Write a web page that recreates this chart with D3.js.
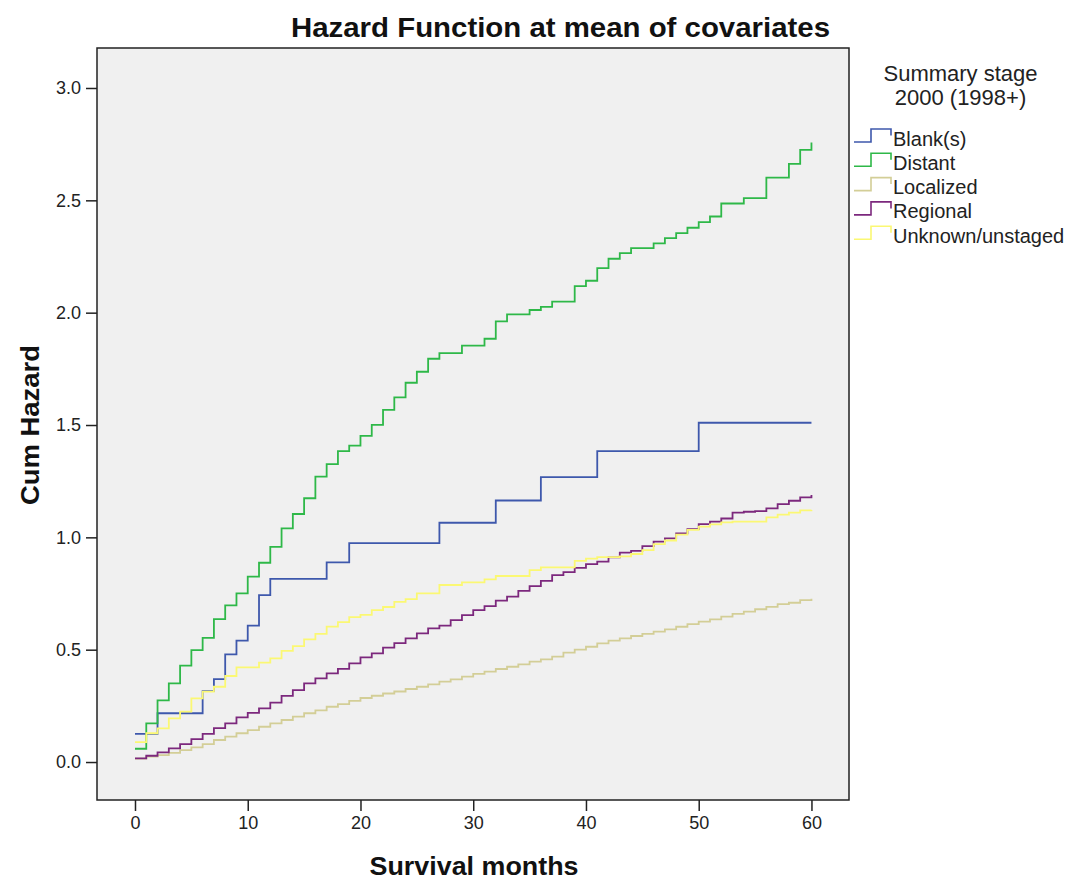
<!DOCTYPE html>
<html><head><meta charset="utf-8">
<script src="https://cdn.jsdelivr.net/npm/d3@7"></script>
<style>
body{margin:0;background:#fff;}
svg{display:block;}
text{font-family:Arial,"Liberation Sans",sans-serif;}
</style>
</head><body>
<svg id="chart" width="1070" height="882"></svg>
<script>
// ---------- DATA ----------
const seriesNames = ["Blank(s)", "Distant", "Localized", "Regional", "Unknown/unstaged"];
const seriesColors = ["#3E58AC", "#2EB848", "#D3CE97", "#7C287D", "#FBF873"];

const months = [0,1,2,3,4,5,6,7,8,9,10,11,12,13,14,15,16,17,18,19,20,21,22,23,24,25,26,27,28,29,30,
  31,32,33,34,35,36,37,38,39,40,41,42,43,44,45,46,47,48,49,50,51,52,53,54,55,56,57,58,59,60];

const blankMonths = [0,2,6,7,8,9,10,11,12,17,19,27,32,36,41,50,60];
const blankHazard = [0.125,0.217,0.316,0.369,0.479,0.540,0.607,0.743,0.815,0.889,0.974,1.065,1.164,1.268,1.384,1.510,1.510];

const distantHazard = [0.059,0.172,0.274,0.350,0.429,0.498,0.553,0.636,0.697,0.751,
  0.825,0.887,0.958,1.040,1.104,1.174,1.270,1.326,1.384,1.408,
  1.452,1.501,1.567,1.623,1.688,1.737,1.795,1.820,1.820,1.853,
  1.853,1.884,1.961,1.992,1.992,2.012,2.026,2.049,2.049,2.118,
  2.142,2.198,2.240,2.265,2.287,2.287,2.308,2.332,2.354,2.378,
  2.403,2.428,2.486,2.486,2.510,2.510,2.601,2.601,2.662,2.725,
  2.757];

const localizedHazard = [0.015,0.024,0.031,0.041,0.053,0.065,0.080,0.098,0.113,0.128,
  0.142,0.157,0.172,0.187,0.202,0.217,0.230,0.246,0.258,0.272,
  0.285,0.295,0.305,0.314,0.325,0.335,0.346,0.358,0.368,0.380,
  0.392,0.402,0.414,0.424,0.435,0.447,0.457,0.469,0.487,0.500,
  0.513,0.528,0.540,0.550,0.561,0.570,0.580,0.590,0.602,0.614,
  0.625,0.635,0.647,0.659,0.669,0.680,0.691,0.703,0.709,0.721,
  0.727];

const regionalHazard = [0.016,0.028,0.043,0.061,0.080,0.102,0.125,0.151,0.172,0.199,
  0.219,0.239,0.264,0.294,0.320,0.350,0.372,0.395,0.415,0.439,
  0.466,0.484,0.509,0.529,0.550,0.573,0.595,0.607,0.632,0.654,
  0.676,0.694,0.718,0.736,0.762,0.783,0.806,0.832,0.845,0.864,
  0.881,0.892,0.911,0.932,0.940,0.961,0.981,0.995,1.018,1.037,
  1.059,1.070,1.084,1.110,1.114,1.117,1.129,1.148,1.163,1.178,
  1.188];

const unknownHazard = [0.089,0.128,0.150,0.194,0.224,0.283,0.313,0.335,0.383,0.421,
  0.421,0.442,0.461,0.495,0.516,0.546,0.570,0.603,0.623,0.645,
  0.655,0.676,0.690,0.713,0.725,0.751,0.751,0.788,0.788,0.800,
  0.800,0.813,0.828,0.828,0.828,0.854,0.866,0.866,0.866,0.895,
  0.905,0.912,0.912,0.915,0.926,0.943,0.970,0.986,1.012,1.033,
  1.048,1.058,1.067,1.070,1.070,1.070,1.089,1.101,1.110,1.120,
  1.122];

const xTicks = [0,10,20,30,40,50,60];
const yTicks = [0.0,0.5,1.0,1.5,2.0,2.5,3.0];

// ---------- CHART ----------
const svg = d3.select("#chart");
const frame = {left:97, right:849, top:48, bottom:800};

const x = d3.scaleLinear().domain([-3.37, 63.33]).range([frame.left, frame.right]);
const y = d3.scaleLinear().domain([-0.169, 3.178]).range([frame.bottom, frame.top]);

svg.append("rect")
  .attr("x", frame.left).attr("y", frame.top)
  .attr("width", frame.right - frame.left).attr("height", frame.bottom - frame.top)
  .attr("fill", "#F0F0F0");

const series = [
  {name: seriesNames[0], color: seriesColors[0], pts: blankMonths.map((m,i)=>[m, blankHazard[i]])},
  {name: seriesNames[1], color: seriesColors[1], pts: months.map((m,i)=>[m, distantHazard[i]])},
  {name: seriesNames[2], color: seriesColors[2], pts: months.map((m,i)=>[m, localizedHazard[i]])},
  {name: seriesNames[3], color: seriesColors[3], pts: months.map((m,i)=>[m, regionalHazard[i]])},
  {name: seriesNames[4], color: seriesColors[4], pts: months.map((m,i)=>[m, unknownHazard[i]])}
];

const line = d3.line().x(d=>x(d[0])).y(d=>y(d[1])).curve(d3.curveStepAfter);

svg.append("g").selectAll("path").data(series).join("path")
  .attr("d", d=>line(d.pts))
  .attr("fill","none")
  .attr("stroke", d=>d.color)
  .attr("stroke-width", 1.8)
  .attr("stroke-linejoin","miter");

// frame border
svg.append("rect")
  .attr("x", frame.left).attr("y", frame.top)
  .attr("width", frame.right - frame.left).attr("height", frame.bottom - frame.top)
  .attr("fill", "none").attr("stroke", "#222").attr("stroke-width", 1.5);

// axes
const xAxis = d3.axisBottom(x).tickValues(xTicks).tickFormat(d3.format("d")).tickSize(11).tickPadding(5);
const gx = svg.append("g").attr("transform", `translate(0,${frame.bottom})`).call(xAxis);
const yAxis = d3.axisLeft(y).tickValues(yTicks).tickFormat(d3.format(".1f")).tickSize(11).tickPadding(5);
const gy = svg.append("g").attr("transform", `translate(${frame.left},0)`).call(yAxis);
[gx, gy].forEach(g=>{
  g.select(".domain").remove();
  g.selectAll(".tick line").attr("stroke","#222").attr("stroke-width",1.5);
  g.selectAll(".tick text").attr("fill","#222").style("font-size","18px")
    .style("font-family","Arial, 'Liberation Sans', sans-serif");
});

// titles
svg.append("text").attr("x", 560.5).attr("y", 37).attr("text-anchor","middle")
  .style("font-size","27px").style("font-weight","bold").attr("fill","#111")
  .attr("textLength", 539).attr("lengthAdjust","spacingAndGlyphs")
  .text("Hazard Function at mean of covariates");

svg.append("text").attr("x", 474).attr("y", 875).attr("text-anchor","middle")
  .style("font-size","25px").style("font-weight","bold").attr("fill","#111")
  .attr("textLength", 209).attr("lengthAdjust","spacingAndGlyphs")
  .text("Survival months");

svg.append("text").attr("transform","translate(39,425) rotate(-90)").attr("text-anchor","middle")
  .style("font-size","26px").style("font-weight","bold").attr("fill","#111")
  .attr("textLength", 160).attr("lengthAdjust","spacingAndGlyphs")
  .text("Cum Hazard");

// legend
const lg = svg.append("g");
lg.append("text").attr("x", 960.5).attr("y", 81).attr("text-anchor","middle")
  .style("font-size","22px").attr("fill","#222").text("Summary stage");
lg.append("text").attr("x", 960.5).attr("y", 105).attr("text-anchor","middle")
  .style("font-size","22px").attr("fill","#222").text("2000 (1998+)");

const items = lg.selectAll("g.item").data(series).join("g").attr("class","item")
  .attr("transform", (d,i)=>`translate(0,${145.5 + i*24.3})`);
items.append("path")
  .attr("d", "M854,-3.5H871V-16.5H891V-10")
  .attr("fill","none").attr("stroke", d=>d.color).attr("stroke-width",1.6);
items.append("text").attr("x", 893).attr("y", 0)
  .style("font-size","20px").attr("fill","#222").text(d=>d.name);
</script>
</body></html>
